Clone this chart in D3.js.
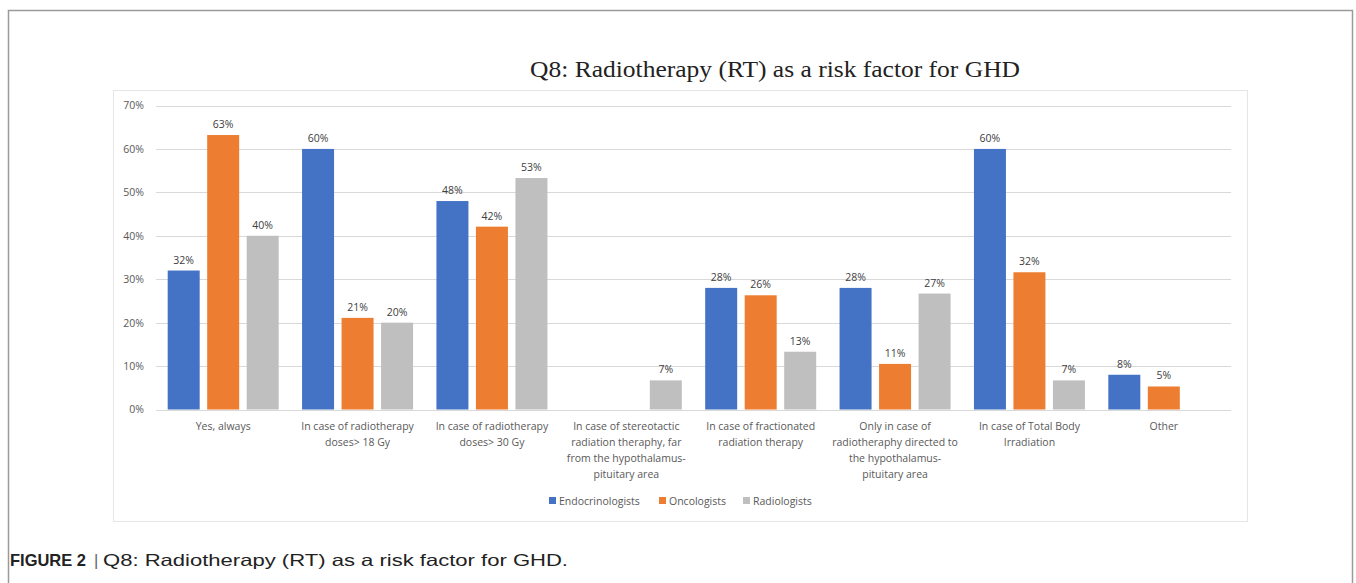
<!DOCTYPE html>
<html><head><meta charset="utf-8">
<script src="https://cdn.jsdelivr.net/npm/d3@7"></script>
<style>html,body{margin:0;padding:0;background:#fff;}svg{display:block;}</style>
</head><body>
<script>
const categories = [
  ["Yes, always"],
  ["In case of radiotherapy", "doses> 18 Gy"],
  ["In case of radiotherapy", "doses> 30 Gy"],
  ["In case of stereotactic", "radiation theraphy, far", "from the hypothalamus-", "pituitary area"],
  ["In case of fractionated", "radiation therapy"],
  ["Only in case of", "radiotheraphy directed to", "the hypothalamus-", "pituitary area"],
  ["In case of Total Body", "Irradiation"],
  ["Other"]
];
const seriesNames = ["Endocrinologists", "Oncologists", "Radiologists"];
const endocrinologists = [32, 60, 48, 0, 28, 28, 60, 8];
const oncologists = [63.2, 21.1, 42.1, 0, 26.3, 10.5, 31.6, 5.3];
const radiologists = [40, 20, 53.3, 6.7, 13.3, 26.7, 6.7, 0];
const yTicks = [0, 10, 20, 30, 40, 50, 60, 70];
const colors = ["#4472C4", "#ED7D31", "#BFBFBF"];
const title = "Q8: Radiotherapy (RT) as a risk factor for GHD";
const captionBold = "FIGURE 2";
const captionText = "Q8: Radiotherapy (RT) as a risk factor for GHD.";

const W = 1356, H = 583;
const svg = d3.select("body").append("svg").attr("width", W).attr("height", H);

// outer frame
svg.append("path").attr("d", `M8.5,${H+5} V10.5 H1352.5 V${H+5}`)
  .attr("fill", "none").attr("stroke", "#9a9a9a").attr("stroke-width", 1.5);

// inner chart box
svg.append("rect").attr("x", 113.5).attr("y", 90.5).attr("width", 1134).attr("height", 431)
  .attr("fill", "#fff").attr("stroke", "#e6e6e6").attr("stroke-width", 1);

// title
svg.append("text").attr("x", 775).attr("y", 77).attr("text-anchor", "middle")
  .attr("font-family", "'Liberation Serif', 'Times New Roman', serif").attr("font-size", 24)
  .attr("fill", "#222").attr("textLength", 490).attr("lengthAdjust", "spacingAndGlyphs")
  .text(title);

const plotL = 156, plotR = 1231;
const catIdx = categories.map((d, i) => i);
const x0 = d3.scaleBand().domain(catIdx).range([plotL, plotR]).paddingInner(0.174).paddingOuter(0.087);
const x1 = d3.scaleBand().domain(seriesNames).range([0, x0.bandwidth()]).paddingInner(0.19);
const y = d3.scaleLinear().domain([0, 70]).range([409.5, 105.5]);

// gridlines
const grid = svg.append("g");
grid.selectAll("line").data(yTicks).join("line")
  .attr("x1", plotL).attr("x2", plotR)
  .attr("y1", d => Math.round(y(d)) + 0.5).attr("y2", d => Math.round(y(d)) + 0.5)
  .attr("stroke", "#d9d9d9").attr("stroke-width", 1);

// y axis labels
const yAxis = d3.axisLeft(y).tickValues(yTicks).tickFormat(d => d + "%").tickSize(0).tickPadding(0);
const yg = svg.append("g").attr("transform", "translate(144,0)").call(yAxis);
yg.select(".domain").remove();
yg.selectAll("text").attr("font-family", "'Open Sans', sans-serif").attr("font-size", 10.5).attr("fill", "#595959");

const seriesVals = [endocrinologists, oncologists, radiologists];
const groups = svg.append("g").selectAll("g").data(seriesNames).join("g")
  .attr("fill", (d, i) => colors[i]);
groups.each(function(name, si) {
  const g = d3.select(this);
  const vals = seriesVals[si];
  g.selectAll("rect").data(vals).join("rect")
    .attr("x", (v, ci) => x0(ci) + x1(name))
    .attr("width", x1.bandwidth())
    .attr("y", v => y(v))
    .attr("height", v => y(0) - y(v));
  g.selectAll("text").data(vals.map((v, ci) => ({v, ci})).filter(d => d.v > 0)).join("text")
    .attr("x", d => x0(d.ci) + x1(name) + x1.bandwidth() / 2)
    .attr("y", d => y(d.v) - 7)
    .attr("text-anchor", "middle")
    .attr("font-family", "'Open Sans', sans-serif").attr("font-size", 10.5).attr("fill", "#404040")
    .text(d => Math.round(d.v) + "%");
});

// category labels
const xl = svg.append("g");
categories.forEach((lines, ci) => {
  const t = xl.append("text").attr("text-anchor", "middle")
    .attr("font-family", "'Open Sans', sans-serif").attr("font-size", 10.5).attr("fill", "#595959");
  lines.forEach((ln, li) => {
    t.append("tspan").attr("x", x0(ci) + x0.bandwidth() / 2).attr("y", 430 + li * 16).text(ln);
  });
});

// legend
const legendX = [549, 659, 743];
const lg = svg.append("g");
seriesNames.forEach((n, i) => {
  lg.append("rect").attr("x", legendX[i]).attr("y", 497).attr("width", 7).attr("height", 7).attr("fill", colors[i]);
  lg.append("text").attr("x", legendX[i] + 10).attr("y", 505)
    .attr("font-family", "'Open Sans', sans-serif").attr("font-size", 10.5).attr("fill", "#595959").text(n);
});

// caption
const capFont = "'Liberation Sans', Arial, sans-serif";
svg.append("text").attr("x", 10).attr("y", 566).attr("font-family", capFont).attr("font-size", 16.5)
  .attr("font-weight", "bold").attr("fill", "#222")
  .attr("textLength", 76).attr("lengthAdjust", "spacingAndGlyphs").text(captionBold);
svg.append("text").attr("x", 94).attr("y", 566).attr("font-family", capFont).attr("font-size", 16.5)
  .attr("fill", "#666").text("|");
svg.append("text").attr("x", 103).attr("y", 566).attr("font-family", capFont).attr("font-size", 16.5)
  .attr("fill", "#222").attr("textLength", 465).attr("lengthAdjust", "spacingAndGlyphs").text(captionText);
</script>
</body></html>
